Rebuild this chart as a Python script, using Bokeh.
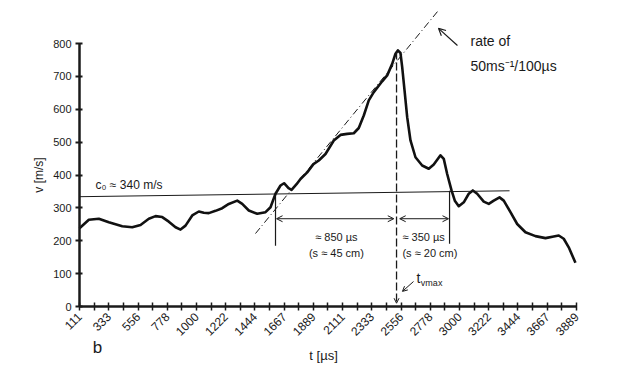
import math
from bokeh.plotting import figure
from bokeh.models import FixedTicker, Range1d, Arrow, OpenHead
from bokeh.embed import file_html
from bokeh.resources import INLINE
from bokeh.core.properties import value

# time axis [µs] and velocity [m/s]
t_us = [111, 182, 258, 334, 436, 512, 575, 638, 689, 740, 790, 841, 879, 917, 968,
        1018, 1056, 1094, 1145, 1196, 1246, 1310, 1348, 1398, 1462, 1525, 1563, 1601,
        1639, 1666, 1700, 1723, 1761, 1791, 1842, 1892, 1930, 1981, 2044, 2095, 2146,
        2196, 2234, 2272, 2310, 2348, 2412, 2450, 2488, 2513, 2531, 2551, 2564, 2582,
        2602, 2627, 2665, 2716, 2766, 2804, 2855, 2880, 2906, 2939, 2964, 2994, 3032,
        3070, 3101, 3134, 3184, 3222, 3260, 3304, 3336, 3387, 3438, 3501, 3577, 3653,
        3716, 3754, 3792, 3830, 3881]
v_ms = [238, 264, 267, 256, 244, 241, 248, 267, 275, 272, 258, 241, 234, 246, 277,
        289, 285, 284, 291, 299, 312, 322, 312, 292, 282, 287, 302, 343,
        368, 375, 360, 355, 372, 388, 408, 434, 444, 464, 505, 522, 525,
        527, 543, 581, 627, 652, 685, 703, 738, 769, 779, 771, 728, 657,
        576, 505, 454, 429, 419, 432, 460, 449, 403, 353, 322, 305, 317,
        343, 353, 343, 319, 312, 322, 332, 322, 287, 251, 226, 214, 208,
        213, 216, 206, 180, 133]

x_labeled_ticks = [111, 333, 556, 778, 1000, 1222, 1444, 1667, 1889, 2111, 2333,
                   2556, 2778, 3000, 3222, 3444, 3667, 3889]
x_minor_ticks = [222, 444, 667, 889, 1111, 1333, 1556, 1778, 2000, 2222, 2444,
                 2667, 2889, 3111, 3333, 3556, 3778]
y_ticks = [0, 100, 200, 300, 400, 500, 600, 700, 800]

c0_t = [111, 3380]
c0_v = [334, 352]
rate_t = [1449, 2832]
rate_v = [222, 897]
t_cross1 = 1601
t_cross2 = 2924
t_vmax = 2521

FONT = "Liberation Sans"
INK = "#1a1a1a"

p = figure(width=640, height=366, output_backend="svg", toolbar_location=None,
           x_range=Range1d(-489.5, 4375.5), y_range=Range1d(-182.5, 930.8),
           min_border_left=0, min_border_right=0, min_border_top=0,
           min_border_bottom=0)
p.grid.visible = False
p.outline_line_color = None
p.background_fill_color = "white"

# axes
xa = p.xaxis[0]
xa.fixed_location = 0
xa.ticker = FixedTicker(ticks=x_labeled_ticks, minor_ticks=x_minor_ticks)
xa.bounds = (111, 3889)
xa.axis_line_width = 2.5
xa.axis_line_color = INK
xa.major_tick_in = 4
xa.major_tick_out = 4
xa.minor_tick_in = 4
xa.minor_tick_out = 4
xa.major_tick_line_width = 1.5
xa.minor_tick_line_width = 1.5
xa.major_tick_line_color = INK
xa.minor_tick_line_color = INK
xa.major_label_orientation = math.pi / 4
xa.major_label_text_font = FONT
xa.major_label_text_font_size = "12px"
xa.major_label_text_color = INK
xa.major_label_standoff = 4

ya = p.yaxis[0]
ya.fixed_location = 111
ya.ticker = FixedTicker(ticks=y_ticks, minor_ticks=[])
ya.bounds = (0, 800)
ya.axis_line_width = 2.5
ya.axis_line_color = INK
ya.major_tick_in = 3
ya.major_tick_out = 4
ya.major_tick_line_width = 2
ya.major_tick_line_color = INK
ya.major_label_text_font = FONT
ya.major_label_text_font_size = "11px"
ya.major_label_text_color = INK
ya.major_label_standoff = 4

# reference lines
p.line(c0_t, c0_v, line_width=1, color=INK)
p.line(rate_t, rate_v, line_width=1, color=INK, line_dash="7 3 1 3")
p.segment(x0=[t_cross1, t_cross2], y0=[185, 191], x1=[t_cross1, t_cross2], y1=[347, 352],
          line_width=1.2, color=INK)

# velocity curve
p.line(t_us, v_ms, line_width=2.6, color="#111111", line_join="round")

# vertical dashed line at vmax
p.add_layout(Arrow(x_start=t_vmax, y_start=776, x_end=t_vmax, y_end=10,
                   line_width=1.3, line_color=INK, line_dash="8 3",
                   end=OpenHead(size=5, line_width=1, line_color=INK)))

# double arrows
p.add_layout(Arrow(x_start=t_cross1 + 8, y_start=267, x_end=2500, y_end=267,
                   line_width=1, line_color=INK,
                   start=OpenHead(size=6, line_width=1, line_color=INK),
                   end=OpenHead(size=6, line_width=1, line_color=INK)))
p.add_layout(Arrow(x_start=2545, y_start=267, x_end=t_cross2 - 8, y_end=267,
                   line_width=1, line_color=INK,
                   start=OpenHead(size=6, line_width=1, line_color=INK),
                   end=OpenHead(size=6, line_width=1, line_color=INK)))

# rate arrow
p.add_layout(Arrow(x_start=2984, y_start=794, x_end=2840, y_end=846,
                   line_width=1.2, line_color=INK,
                   end=OpenHead(size=7, line_width=1.2, line_color=INK)))

# t_vmax arrow
p.add_layout(Arrow(x_start=2650, y_start=76, x_end=2566, y_end=46,
                   line_width=1, line_color=INK,
                   end=OpenHead(size=5, line_width=1, line_color=INK)))

# texts
def txt(x, y, s, size, align="left", angle=0.0):
    p.text(x=[x], y=[y], text=[s], text_font=value(FONT), text_font_size=size,
           text_color=INK, text_align=align, text_baseline="middle", angle=angle)

txt(233, 370, "c₀ ≈ 340 m/s", "12px")
txt(2064, 210, "≈ 850 µs", "11px", "center")
txt(2064, 164, "(s ≈ 45 cm)", "11px", "center")
txt(2566, 210, "≈ 350 µs", "11px")
txt(2566, 164, "(s ≈ 20 cm)", "11px")
txt(3083, 808, "rate of", "14px")
txt(3083, 733, "50ms⁻¹/100µs", "14px")
txt(2672, 88, "t", "14px")
txt(2706, 70, "vmax", "9px")
txt(1966, -148, "t [µs]", "13px", "center")
txt(248, -125, "b", "17px", "center")
txt(-200, 400, "v [m/s]", "12px", "center", math.pi / 2)

open("out.html", "w").write(file_html(p, INLINE))
